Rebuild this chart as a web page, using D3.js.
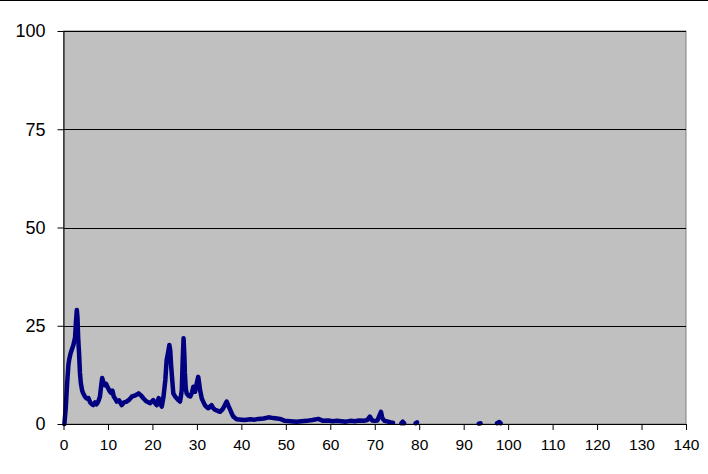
<!DOCTYPE html>
<html>
<head>
<meta charset="utf-8">
<script src="https://cdn.jsdelivr.net/npm/d3@7"></script>
<style>
  html, body { margin: 0; padding: 0; background: #ffffff; }
  svg { display: block; }
</style>
</head>
<body>
<svg id="chart" width="708" height="474"></svg>
<script>
// ---- data ----
const xValues = [
  0.2, 0.5, 0.8, 1.1, 1.3, 1.6, 1.9, 2.2, 2.4, 2.6, 2.8, 3.0, 3.15, 3.3, 3.5, 3.7, 3.9,
  4.2, 4.4, 4.8, 5.2, 5.6, 6.0, 6.4, 6.7, 7.1, 7.4, 7.6, 7.9, 8.2, 8.5, 8.7, 9.0, 9.3,
  9.6, 10.0, 10.3, 10.5, 10.7, 11.0, 11.3, 11.6, 12.0, 12.5, 13.1, 13.6, 14.2, 14.8,
  15.4, 16.0, 16.5, 16.9, 17.4, 18.0, 18.6, 19.5, 20.2, 20.6, 21.0, 21.4, 21.8, 22.1,
  22.5, 22.9, 23.2, 23.5, 23.8, 24.0, 24.2, 24.4, 24.7, 25.1, 25.5, 25.9, 26.2, 26.4,
  26.6, 26.8, 27.0, 27.2, 27.3, 27.5, 27.7, 28.1, 28.5, 28.9, 29.2, 29.6, 29.9, 30.3,
  30.5, 30.7, 31.1, 31.5, 31.8, 32.2, 32.6, 33.0, 33.3, 33.7, 34.1, 34.6, 35.2, 35.8,
  36.3, 36.7, 37.1, 37.5, 37.9, 38.2, 38.6, 39.0, 40.0, 40.8, 42.0, 43.0, 43.8, 45.0,
  46.1, 47.2, 48.0, 48.7, 49.8, 51.0, 52.4, 53.5, 54.7, 56.0, 57.3, 58.4, 59.5, 60.5,
  61.5, 62.5, 63.5, 64.5, 65.5, 66.5, 67.5, 68.3, 68.9, 69.4, 70.0, 70.6, 71.0, 71.4,
  71.7, 72.2, 73.0, 73.6, 74.1, 75.0,
  76.0, 76.3, 76.6, 77.0,
  79.2, 79.5, 80.0,
  93.4, 93.8, 94.0,
  97.5, 98.0, 98.3
];
const yValues = [
  0, 4, 10, 15, 16.5, 18, 19, 20, 21, 22, 26, 29, 27, 22, 18, 13, 10.4,
  8.5, 7.9, 7, 6.5, 6.6, 5.5, 5, 4.8, 5.5, 5, 5.3, 6, 7, 10, 11.7, 10.5, 9.9,
  10.2, 9.2, 8.5, 8.2, 7.9, 8.5, 7, 6.5, 5.7, 6, 4.8, 5.5, 5.7, 6.2,
  7, 7.2, 7.5, 7.8, 7.3, 6.5, 5.8, 5.3, 6.1, 5.3, 4.8, 6.6, 5.2, 4.4,
  7, 11.2, 16.3, 18, 20.1, 18.8, 15, 12, 7.8, 7, 6.5, 6, 5.7, 7,
  8.7, 16, 21.8, 17, 13, 9, 7.8, 7.2, 7, 8, 9.5, 8.2, 10, 12,
  10.5, 8.7, 6.5, 5.5, 4.8, 4.3, 4, 4.5, 4.8, 4, 3.6, 3.4, 3.1, 3.8,
  4.8, 5.7, 4.6, 3.6, 2.5, 1.9, 1.5, 1.2, 1.1, 1.0, 1.2, 1.1, 1.3, 1.4,
  1.7, 1.5, 1.4, 1.3, 0.8, 0.7, 0.6, 0.7, 0.8, 1.0, 1.3, 0.8, 0.9, 0.7,
  0.8, 0.7, 0.6, 0.8, 0.7, 0.9, 0.8, 1.0, 1.9, 0.9, 0.8, 0.9, 2, 3.1,
  1.5, 0.8, 0.6, 0.4, 0.3, null,
  0.2, 0.6, 0.2, null,
  0.2, 0.4, null,
  0.1, 0.2, null,
  0.2, 0.5, 0.2
];
const xTicks = [0, 10, 20, 30, 40, 50, 60, 70, 80, 90, 100, 110, 120, 130, 140];
const yTicks = [0, 25, 50, 75, 100];

// ---- layout ----
const svg = d3.select("#chart");
const plot = { left: 63.5, right: 686, top: 31, bottom: 424 };

const x = d3.scaleLinear().domain([0, 140]).range([plot.left, plot.right]);
const y = d3.scaleLinear().domain([0, 100]).range([plot.bottom, plot.top]);

// top border line
svg.append("line")
  .attr("x1", 0).attr("x2", 708).attr("y1", 0.5).attr("y2", 0.5)
  .attr("stroke", "#000").attr("stroke-width", 1);

// plot background
svg.append("rect")
  .attr("x", plot.left).attr("y", plot.top)
  .attr("width", plot.right - plot.left).attr("height", plot.bottom - plot.top)
  .attr("fill", "#c0c0c0").attr("stroke", "#808080").attr("stroke-width", 1);

// gridlines
svg.append("g").selectAll("line")
  .data(yTicks.filter(d => d > 0))
  .join("line")
  .attr("x1", plot.left).attr("x2", plot.right)
  .attr("y1", d => Math.round(y(d)) + 0.5).attr("y2", d => Math.round(y(d)) + 0.5)
  .attr("stroke", "#000").attr("stroke-width", 1);

// data line
const pts = xValues.map((v, i) => ({ x: v, y: yValues[i] }));
const line = d3.line()
  .defined(d => d.y !== null)
  .x(d => x(d.x)).y(d => y(d.y))
  .curve(d3.curveLinear);

svg.append("path")
  .datum(pts)
  .attr("d", line)
  .attr("fill", "none")
  .attr("stroke", "#000080")
  .attr("stroke-width", 4.5)
  .attr("stroke-linejoin", "round")
  .attr("stroke-linecap", "round");

// axes
const xAxis = d3.axisBottom(x).tickValues(xTicks).tickSize(6).tickSizeOuter(0).tickPadding(9);
const gx = svg.append("g")
  .attr("transform", `translate(0,${plot.bottom})`)
  .call(xAxis);
gx.select(".domain").attr("stroke", "#000");
gx.selectAll(".tick line").attr("stroke", "#000");
gx.selectAll("text")
  .attr("font-family", "'Liberation Sans', Arial, sans-serif")
  .attr("font-size", "15.5px")
  .attr("fill", "#000");

const yAxis = d3.axisLeft(y).tickValues(yTicks).tickSize(6).tickSizeOuter(0).tickPadding(12);
const gy = svg.append("g")
  .attr("transform", `translate(${plot.left},0)`)
  .call(yAxis);
gy.select(".domain").attr("stroke", "#000");
gy.selectAll(".tick line").attr("stroke", "#000");
gy.selectAll("text")
  .attr("font-family", "'Liberation Sans', Arial, sans-serif")
  .attr("font-size", "18px")
  .attr("fill", "#000");
</script>
</body>
</html>
